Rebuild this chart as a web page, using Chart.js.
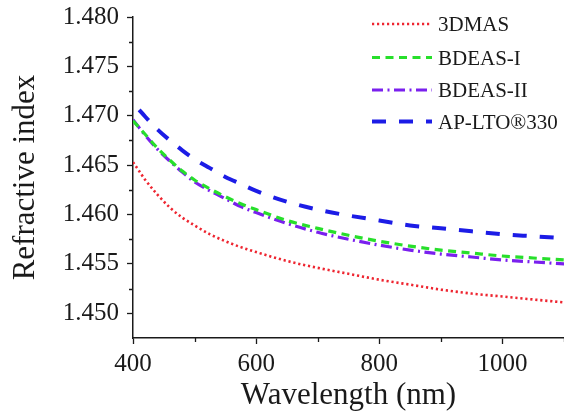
<!DOCTYPE html>
<html>
<head>
<meta charset="utf-8">
<script src="https://cdn.jsdelivr.net/npm/chart.js@4.4.1/dist/chart.umd.min.js"></script>
<style>
  html, body { margin: 0; padding: 0; background: #fff; }
  #wrap { width: 564px; height: 413px; }
</style>
</head>
<body>
<div id="wrap"><canvas id="riChart" width="564" height="413"></canvas></div>
<script>
// wavelength grid (nm) shared by all curves
const wavelengths = [400, 410, 420, 440, 460, 480, 500, 525, 550, 575, 600, 650, 700, 750, 800, 850, 900, 950, 1000, 1050, 1100];

// refractive index per material
const ri3DMAS   = [1.4653, 1.4644, 1.4635, 1.4620, 1.4607, 1.4597, 1.4589, 1.4580, 1.4573, 1.4567, 1.4562, 1.4553, 1.4546, 1.4540, 1.4534, 1.4529, 1.4524, 1.4520, 1.4517, 1.4514, 1.4511];
const riBDEAS1  = [1.4695, 1.4688, 1.4681, 1.4667, 1.4655, 1.4644, 1.4635, 1.4626, 1.4618, 1.4611, 1.4605, 1.4594, 1.4586, 1.4579, 1.4573, 1.4568, 1.4564, 1.4561, 1.4558, 1.4556, 1.4554];
const riBDEAS2  = [1.4696, 1.4688, 1.4680, 1.4666, 1.4654, 1.4643, 1.4633, 1.4624, 1.4616, 1.4608, 1.4602, 1.4591, 1.4582, 1.4575, 1.4569, 1.4564, 1.4560, 1.4557, 1.4554, 1.4552, 1.4550];
const riAPLTO   = [null,   1.4706, 1.4699, 1.4686, 1.4675, 1.4665, 1.4656, 1.4647, 1.4638, 1.4631, 1.4624, 1.4613, 1.4605, 1.4599, 1.4594, 1.4589, 1.4586, 1.4583, 1.4580, 1.4578, 1.4576];

const seriesNames = ['3DMAS', 'BDEAS-I', 'BDEAS-II', 'AP-LTO®330'];

// axis ticks: every value gets a tick mark, only the labelled ones are major
const xTicks = [400, 500, 600, 700, 800, 900, 1000, 1100];
const xLabels = [400, 600, 800, 1000];
const yTicks = [1.450, 1.4525, 1.455, 1.4575, 1.460, 1.4625, 1.465, 1.4675, 1.470, 1.4725, 1.475, 1.4775, 1.480];
const yLabels = [1.450, 1.455, 1.460, 1.465, 1.470, 1.475, 1.480];

const SERIF = "'Liberation Serif', 'Times New Roman', serif";
const INK = '#1a1a1a';

function isLabelled(list, v) {
    return list.some(l => Math.abs(l - v) < 1e-7);
}

function toPoints(ys) {
    return wavelengths.map((x, i) => ({ x: x, y: ys[i] }));
}

// short minor tick marks, pointing outward like the major ones
const minorTicks = {
    id: 'minorTicks',
    afterDraw(chart) {
        const ctx = chart.ctx;
        const xs = chart.scales.x, ys = chart.scales.y;
        ctx.save();
        ctx.strokeStyle = INK;
        ctx.lineWidth = 1.3;
        ctx.beginPath();
        xTicks.forEach(v => {
            if (isLabelled(xLabels, v)) return;
            const px = Math.round(xs.getPixelForValue(v)) + 0.5;
            ctx.moveTo(px, xs.top);
            ctx.lineTo(px, xs.top + 4);
        });
        yTicks.forEach(v => {
            if (isLabelled(yLabels, v)) return;
            const py = Math.round(ys.getPixelForValue(v)) + 0.5;
            ctx.moveTo(ys.right, py);
            ctx.lineTo(ys.right - 4, py);
        });
        ctx.stroke();
        ctx.restore();
    }
};

// legend with a line sample per dataset, placed in the upper right
const lineLegend = {
    id: 'lineLegend',
    afterDraw(chart) {
        const ctx = chart.ctx;
        const rows = [24, 57.5, 90, 121.5];
        ctx.save();
        chart.data.datasets.forEach((ds, i) => {
            const y = rows[i];
            ctx.strokeStyle = ds.borderColor;
            ctx.lineWidth = ds.borderWidth;
            ctx.setLineDash(ds.borderDash || []);
            ctx.beginPath();
            ctx.moveTo(372, y);
            ctx.lineTo(432, y);
            ctx.stroke();
            ctx.setLineDash([]);
            ctx.fillStyle = INK;
            ctx.font = '21px ' + SERIF;
            ctx.textBaseline = 'middle';
            ctx.fillText(ds.label, 438, y + 1.5);
        });
        ctx.restore();
    }
};

const styles = [
    { color: '#ee2530', width: 2.6, dash: [2.2, 2.8] },
    { color: '#27df2b', width: 3.2, dash: [8, 5.5] },
    { color: '#7a20ee', width: 3.2, dash: [11, 4.5, 2, 4.5] },
    { color: '#1c1ce6', width: 4, dash: [14, 13] }
];
const seriesData = [ri3DMAS, riBDEAS1, riBDEAS2, riAPLTO];

const ctx = document.getElementById('riChart').getContext('2d');
new Chart(ctx, {
    type: 'line',
    data: {
        datasets: seriesData.map((ys, i) => ({
            label: seriesNames[i],
            data: toPoints(ys),
            borderColor: styles[i].color,
            backgroundColor: styles[i].color,
            borderWidth: styles[i].width,
            borderDash: styles[i].dash,
            borderCapStyle: 'butt',
            pointRadius: 0,
            fill: false,
            cubicInterpolationMode: 'monotone'
        }))
    },
    options: {
        responsive: false,
        animation: false,
        devicePixelRatio: 1,
        layout: { padding: { top: 17, right: 0, bottom: 0, left: 0 } },
        plugins: {
            legend: { display: false },
            tooltip: { enabled: false }
        },
        scales: {
            x: {
                type: 'linear',
                min: 400,
                max: 1100,
                afterBuildTicks: scale => { scale.ticks = xTicks.map(v => ({ value: v })); },
                afterFit: scale => {
                    scale.height = 75;
                    scale.paddingLeft = 0;
                    scale.paddingRight = 0;
                },
                border: { color: INK, width: 1.5 },
                grid: {
                    drawOnChartArea: false,
                    tickLength: 6,
                    tickWidth: 1.3,
                    tickColor: c => (c.tick && isLabelled(xLabels, c.tick.value)) ? INK : 'rgba(0,0,0,0)'
                },
                ticks: {
                    autoSkip: false,
                    maxRotation: 0,
                    padding: 5,
                    color: INK,
                    font: { family: SERIF, size: 25 },
                    callback: v => isLabelled(xLabels, v) ? String(v) : ''
                },
                title: {
                    display: true,
                    text: 'Wavelength (nm)',
                    color: INK,
                    font: { family: SERIF, size: 31 },
                    padding: { top: 0, bottom: -1 }
                }
            },
            y: {
                type: 'linear',
                min: 1.4475,
                max: 1.480,
                afterBuildTicks: scale => { scale.ticks = yTicks.map(v => ({ value: v })); },
                afterFit: scale => {
                    scale.width = 133;
                    scale.paddingTop = 0;
                    scale.paddingBottom = 0;
                },
                border: { color: INK, width: 1.5 },
                grid: {
                    drawOnChartArea: false,
                    tickLength: 6,
                    tickWidth: 1.3,
                    tickColor: c => (c.tick && isLabelled(yLabels, c.tick.value)) ? INK : 'rgba(0,0,0,0)'
                },
                ticks: {
                    autoSkip: false,
                    padding: 8,
                    color: INK,
                    font: { family: SERIF, size: 25 },
                    callback: v => isLabelled(yLabels, v) ? v.toFixed(3) : ''
                },
                title: {
                    display: true,
                    text: 'Refractive index',
                    color: INK,
                    font: { family: SERIF, size: 31 },
                    padding: { top: 7, bottom: 0 }
                }
            }
        }
    },
    plugins: [minorTicks, lineLegend]
});
</script>
</body>
</html>
